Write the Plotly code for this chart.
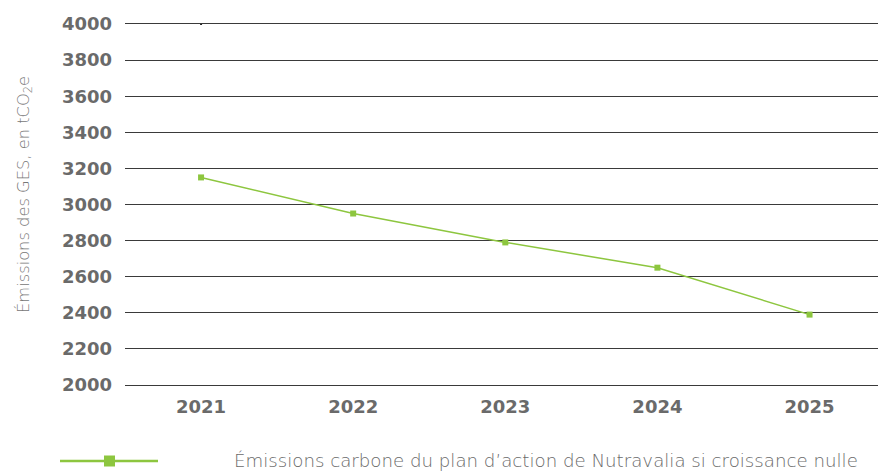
import plotly.graph_objects as go

years = ["2021", "2022", "2023", "2024", "2025"]
emissions = [3150, 2950, 2790, 2650, 2390]
ref_year = ["2021"]
ref_value = [4000]
series_name = "Émissions carbone du plan d’action de Nutravalia si croissance nulle"
y_title = "Émissions des GES, en tCO<sub>2</sub>e"

W, H = 878, 472
ML, MR, MT, MB = 125, 0, 24, 87
GREEN = "#8dc63f"
GRAY = "#6a6a6a"
GRID = "#3a3a3a"
TICKFONT = dict(family="DejaVu Sans", size=18, color="#6a6a6a", weight=700)

fig = go.Figure()
fig.add_trace(go.Scatter(
    x=years, y=emissions, mode="lines+markers",
    line=dict(color=GREEN, width=1.5),
    marker=dict(symbol="square", size=6, color=GREEN),
    name=series_name, showlegend=False,
))
fig.add_trace(go.Scatter(
    x=ref_year, y=ref_value, mode="markers",
    marker=dict(symbol="square", size=2, color="#222222"),
    showlegend=False, hoverinfo="skip",
))

PW = W - ML - MR
PH = H - MT - MB


def px(x):
    return (x - ML) / PW


def py(y):
    return (H - MB - y) / PH


# Manual legend (long line with square marker)
fig.add_shape(type="line", xref="paper", yref="paper",
              x0=px(60), x1=px(158), y0=py(461), y1=py(461),
              line=dict(color=GREEN, width=2.5))
fig.add_shape(type="rect", xref="paper", yref="paper",
              x0=px(104), x1=px(115), y0=py(455.5), y1=py(466.5),
              line=dict(width=0), fillcolor=GREEN)
fig.add_annotation(xref="paper", yref="paper", x=px(232), y=py(460),
                   text=series_name, showarrow=False, xanchor="left", yanchor="middle",
                   font=dict(family="DejaVu Sans", size=18.2, color=GRAY, weight=200))

# Y title as annotation
fig.add_annotation(xref="paper", yref="paper", x=px(24), y=py(195),
                   text=y_title, showarrow=False, textangle=-90,
                   xanchor="center", yanchor="middle",
                   font=dict(family="DejaVu Sans", size=16.3, color="#777777", weight=200))

fig.update_layout(
    width=W, height=H,
    margin=dict(l=ML, r=MR, t=MT, b=MB),
    paper_bgcolor="white", plot_bgcolor="white",
    font=dict(family="DejaVu Sans", color=GRAY),
    showlegend=False,
)
fig.update_xaxes(
    type="category", range=[-0.5, 4.45],
    showgrid=False, zeroline=False,
    showline=True, mirror=True, linecolor=GRID, linewidth=1,
    tickfont=TICKFONT,
    ticks="", ticklabelstandoff=5, automargin=False,
)
fig.update_yaxes(
    range=[2000, 4000], dtick=200, tick0=2000,
    showgrid=True, gridcolor=GRID, gridwidth=1,
    zeroline=False, showline=False,
    tickfont=TICKFONT,
    ticks="", ticklabelstandoff=12, automargin=False,
)

fig.write_html("out.html", config={"displayModeBar": False},
               post_script="document.body.style.margin='0';")
